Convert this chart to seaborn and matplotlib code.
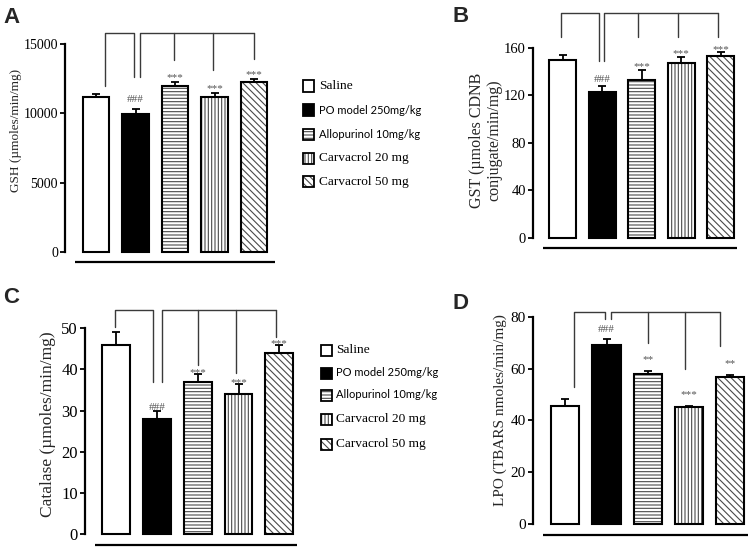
import matplotlib
matplotlib.use('Agg')
import matplotlib.pyplot as plt
from matplotlib.colors import to_rgba
from matplotlib.patches import Rectangle
import seaborn as sns

groups = ['Saline', 'PO model 250mg/kg', 'Allopurinol 10mg/kg',
          'Carvacrol 20 mg', 'Carvacrol 50 mg']

gsh = [11150, 9950, 12000, 11150, 12280]
gsh_err = [250, 350, 250, 300, 200]
gst = [150, 123, 133, 147, 153]
gst_err = [4, 5, 8, 5.5, 3]
cat = [46, 28, 37, 34, 44]
cat_err = [3, 2, 2, 2.5, 2]
lpo = [45.5, 69, 58, 45, 56.6]
lpo_err = [2.7, 2.4, 1, 0.4, 0.9]

marks_abc = ['', '###', '***', '***', '***']
marks_d = ['', '###', '**', '***', '**']

gsh_ticks = [0, 5000, 10000, 15000]
gst_ticks = [0, 40, 80, 120, 160]
cat_ticks = [0, 10, 20, 30, 40, 50]
lpo_ticks = [0, 20, 40, 60, 80]

faces = ['white', 'black', 'white', 'white', 'white']
hatches = [None, None, '-----', '|||||', '\\\\\\\\\\']
hatch_grey = to_rgba('#4a4a4a')
serif = ['Liberation Serif', 'DejaVu Serif']
sans = ['Lato', 'DejaVu Sans']

sns.set_theme(style='white')
plt.rcParams['font.family'] = serif
plt.rcParams['hatch.linewidth'] = 0.8

W, H = 750, 550
fig = plt.figure(figsize=(7.5, 5.5), dpi=100)


def px(x, y):
    return x / W, 1 - y / H


def panel(left, x_lo, x_hi, step, y0, ytop, vals, errs, marks, ticks, tsize,
          ymax, base_y, base_x0, gap, gap_hash, br_top, br1, br2):
    width = (x_hi - x_lo) * step
    ax = fig.add_axes([left / W, (H - y0) / H, width / W, (y0 - ytop) / H])
    sns.barplot(x=groups, y=vals, order=groups, ax=ax, width=0.68,
                color='white', edgecolor='black', linewidth=1.5,
                errorbar=None)
    for p, fc, h in zip(ax.patches, faces, hatches):
        p.set_facecolor(fc)
        p.set_clip_on(False)
        if h:
            p.set_hatch(h)
            p._hatch_color = hatch_grey
    ax.errorbar(range(len(vals)), vals, yerr=[[0] * len(vals), errs],
                fmt='none', ecolor='black', elinewidth=1.3, capsize=3.2,
                capthick=1.3, zorder=5, clip_on=False)
    for i, m in enumerate(marks):
        if not m:
            continue
        off = gap_hash if m.startswith('#') else gap
        ax.annotate(m, (i, vals[i] + errs[i]), xytext=(0, off),
                    textcoords='offset points', ha='center', va='baseline',
                    fontsize=8, color='#555555', annotation_clip=False)
    ax.set_xlim(x_lo, x_hi)
    ax.set_ylim(0, ymax)
    ax.set_yticks(ticks)
    ax.set_yticklabels([str(t) for t in ticks])
    ax.set_xticks([])
    ax.set_xlabel('')
    ax.set_ylabel('')
    for s in ['top', 'right', 'bottom']:
        ax.spines[s].set_visible(False)
    ax.spines['left'].set_linewidth(1.6)
    ax.spines['left'].set_color('black')
    ax.spines['left'].set_bounds(0, ymax)
    ax.tick_params(axis='y', left=True, direction='out', length=3.5,
                   width=1.3, labelsize=tsize, pad=1.5, colors='black')
    ax.plot([base_x0, x_hi], [base_y, base_y], color='black', lw=1.6,
            clip_on=False, solid_capstyle='butt')
    # comparison brackets
    bk = dict(color='#3a3a3a', lw=1.0, clip_on=False)
    (xa, ya), (xb, yb) = br1
    ax.plot([xa, xa, xb, xb], [ya, br_top, br_top, yb], **bk)
    (xs, ys), legs = br2
    ax.plot([xs, xs, legs[-1][0]], [ys, br_top, br_top], **bk)
    for lx, ly in legs:
        ax.plot([lx, lx], [br_top, ly], **bk)
    return ax


def legend(x_box, rows, x_text):
    for g, fc, h, yc in zip(groups, faces, hatches, rows):
        r = Rectangle(px(x_box, yc + 5.5), 11 / W, 11 / H,
                      transform=fig.transFigure, facecolor=fc,
                      edgecolor='black', linewidth=1.3)
        if h:
            r.set_hatch(h)
            r._hatch_color = hatch_grey
        fig.add_artist(r)
        is_sans = g.startswith('PO') or g.startswith('Allo')
        fig.text(*px(x_text, yc), g, ha='left', va='center',
                 family=sans if is_sans else serif,
                 fontsize=8.0 if is_sans else 9.6, color='black')


panel(65, -0.785, 4.53, 39.5, 252, 44, gsh, gsh_err, marks_abc, gsh_ticks, 10,
      15000, -720, -0.53, 1.5, 5.5, 15800,
      [(0.24, 11940), (0.95, 12610)],
      [(1.12, 12610), [(1.98, 13870), (2.97, 13090), (4.0, 13910)]])
panel(533, -0.75, 4.41, 39.5, 238, 47.7, gst, gst_err, marks_abc, gst_ticks,
      10.5, 160, -8.4, -0.5, 0.5, 2.5, 188.8,
      [(-0.03, 168.7), (0.92, 148.8)],
      [(1.06, 148.8), [(1.92, 168.7), (2.93, 168.7), (3.94, 168.7)]])
panel(85, -0.768, 4.43, 40.75, 534, 328.3, cat, cat_err, marks_abc, cat_ticks,
      12, 50, -2.7, -0.52, -1.0, 0.6, 54.5,
      [(-0.03, 50.2), (0.9, 37.0)],
      [(1.13, 37.0), [(2.0, 41.1), (2.94, 39.2), (3.93, 48.0)]])
panel(533, -0.784, 4.44, 41.2, 524, 316.7, lpo, lpo_err, marks_d, lpo_ticks,
      11, 80, -4.2, -0.54, 6.5, 5.0, 81.7,
      [(0.21, 53.0), (0.96, 79.0)],
      [(1.11, 79.0), [(2.0, 69.7), (2.9, 59.7), (3.76, 68.7)]])

fig.text(*px(16, 130), 'GSH (µmoles/min/mg)', rotation=90, ha='center',
         va='center', fontsize=9.5)
fig.text(*px(486, 140), 'GST (µmoles CDNB\nconjugate/min/mg)', rotation=90,
         ha='center', va='center', fontsize=11.5, linespacing=1.1)
fig.text(*px(48, 424), 'Catalase (µmoles/min/mg)', rotation=90, ha='center',
         va='center', fontsize=12.5)
fig.text(*px(500, 410), 'LPO (TBARS nmoles/min/mg)', rotation=90,
         ha='center', va='center', fontsize=11)

for lab, x, y in [('A', 3, 7), ('B', 453, 6), ('C', 3, 287), ('D', 453, 293)]:
    fig.text(*px(x, y), lab, ha='left', va='top', fontsize=16,
             fontweight='bold', family=['Liberation Sans', 'DejaVu Sans'])

legend(303, [86, 110, 134, 158, 182], 319)
legend(321, [350, 373, 395, 419, 444], 336)

fig.savefig('out.png', dpi=100, facecolor='white')
